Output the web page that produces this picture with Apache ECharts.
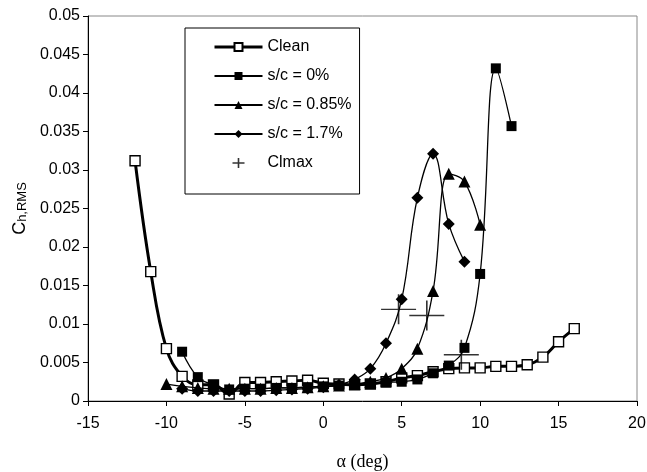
<!DOCTYPE html>
<html>
<head>
<meta charset="utf-8">
<script src="https://cdn.jsdelivr.net/npm/echarts@6/dist/echarts.min.js"></script>
<style>html,body{margin:0;padding:0;background:#fff;}#c{width:647px;height:472px;}</style>
</head>
<body>
<div id="c"></div>
<script>
const seriesNames = ['Clean', 's/c = 0%', 's/c = 0.85%', 's/c = 1.7%', 'Clmax'];
const alphaClean = [-12,-11,-10,-9,-8,-7,-6,-5,-4,-3,-2,-1,0,1,2,3,4,5,6,7,8,9,10,11,12,13,14,15,16];
const clean = [0.0312,0.0168,0.0068,0.0032,0.0021,0.0021,0.0009,0.0024,0.0024,0.0025,0.0026,0.0027,0.0023,0.0022,0.0021,0.0022,0.0025,0.0030,0.0033,0.0038,0.0042,0.0043,0.0043,0.0045,0.0045,0.0047,0.0057,0.0077,0.0094];
const alphaSc0 = [-9,-8,-7,-6,-5,-4,-3,-2,-1,0,1,2,3,4,5,6,7,8,9,10,11,12];
const sc0 = [0.0064,0.0031,0.0021,0.0015,0.0016,0.0016,0.0017,0.0017,0.0018,0.0019,0.0020,0.0021,0.0022,0.0024,0.0025,0.0028,0.0036,0.0046,0.0069,0.0165,0.0432,0.0357];
const alphaSc085 = [-10,-9,-8,-7,-6,-5,-4,-3,-2,-1,0,1,2,3,4,5,6,7,8,9,10];
const sc085 = [0.0022,0.0019,0.0017,0.0016,0.0016,0.0016,0.0016,0.0017,0.0017,0.0018,0.0019,0.0020,0.0022,0.0025,0.0030,0.0042,0.0068,0.0143,0.0295,0.0285,0.0229];
const alphaSc17 = [-9,-8,-7,-6,-5,-4,-3,-2,-1,0,1,2,3,4,5,6,7,8,9];
const sc17 = [0.0016,0.0013,0.0013,0.0013,0.0013,0.0013,0.0014,0.0015,0.0016,0.0018,0.0021,0.0028,0.0042,0.0075,0.0132,0.0264,0.0321,0.0230,0.0181];
const alphaClmax = [4.8, 6.6, 8.8];
const clmax = [0.0119, 0.0111, 0.0060];
const xTicks = [-15, 20, 5];
const yTicks = [0, 0.05, 0.005];

const zip = (a, b) => a.map((x, i) => [x, b[i]]);
const font = "'Liberation Sans', Arial, sans-serif";

const chart = echarts.init(document.getElementById('c'), null, {renderer: 'canvas'});
chart.setOption({
  animation: false,
  backgroundColor: '#fff',
  grid: {left: 88, top: 16, right: 10, bottom: 71, show: true, borderColor: '#888', borderWidth: 1,
         containLabel: false, outerBoundsMode: 'none'},
  legend: {
    orient: 'vertical', left: 185, top: 28,
    padding: [10, 8, 22, 28],
    itemGap: 11, itemWidth: 48, itemHeight: 10,
    borderColor: '#000', borderWidth: 1, backgroundColor: '#fff',
    textStyle: {fontFamily: font, fontSize: 16, color: '#000', lineHeight: 18},
    data: [
      {name: seriesNames[0], lineStyle: {width: 3}}, {name: seriesNames[1]}, {name: seriesNames[2]}, {name: seriesNames[3]},
      {name: seriesNames[4], icon: 'path://M0,0M12,10M0,5L12,5M6,0L6,10', itemStyle: {color: 'transparent', borderColor: '#000', borderWidth: 1.6}}
    ]
  },
  xAxis: {
    type: 'value', min: xTicks[0], max: xTicks[1], interval: xTicks[2],
    name: 'α (deg)', nameLocation: 'middle', nameGap: 52,
    nameTextStyle: {fontFamily: "'Liberation Serif', 'Times New Roman', serif", fontSize: 18, color: '#000'},
    axisLine: {onZero: false, lineStyle: {color: '#000', width: 1}},
    axisTick: {show: true, inside: false, length: 5, lineStyle: {color: '#000'}},
    axisLabel: {fontFamily: font, fontSize: 16, color: '#000', margin: 15},
    splitLine: {show: false}
  },
  yAxis: {
    type: 'value', min: yTicks[0], max: yTicks[1], interval: yTicks[2],
    name: '{a|C}{b|h,RMS}', nameLocation: 'middle', nameGap: 50, nameRotate: 90,
    nameTextStyle: {rich: {
      a: {fontFamily: font, fontSize: 18, color: '#000', lineHeight: 22, verticalAlign: 'bottom'},
      b: {fontFamily: font, fontSize: 13, color: '#000', lineHeight: 22, verticalAlign: 'bottom', padding: [6, 0, 0, 0]}
    }},
    axisLine: {show: true, onZero: false, lineStyle: {color: '#000', width: 1}},
    axisTick: {show: true, inside: false, length: 5, lineStyle: {color: '#000'}},
    axisLabel: {fontFamily: font, fontSize: 16, color: '#000', margin: 8, formatter: v => String(+v.toFixed(4))},
    splitLine: {show: false}
  },
  series: [
    {name: seriesNames[0], type: 'line', data: zip(alphaClean, clean), smooth: 0.4,
     symbol: 'rect', symbolSize: 10, lineStyle: {color: '#000', width: 3},
     itemStyle: {color: '#fff', borderColor: '#000', borderWidth: 1.4}, z: 3},
    {name: seriesNames[1], type: 'line', data: zip(alphaSc0, sc0), smooth: 0.4,
     symbol: 'rect', symbolSize: 10, lineStyle: {color: '#000', width: 1.3},
     itemStyle: {color: '#000', borderColor: '#000', borderWidth: 0}, z: 4},
    {name: seriesNames[2], type: 'line', data: zip(alphaSc085, sc085), smooth: 0.4,
     symbol: 'triangle', symbolSize: 12, lineStyle: {color: '#000', width: 1.3},
     itemStyle: {color: '#000', borderColor: '#000', borderWidth: 0}, z: 4},
    {name: seriesNames[3], type: 'line', data: zip(alphaSc17, sc17), smooth: 0.4,
     symbol: 'diamond', symbolSize: 12, lineStyle: {color: '#000', width: 1.3},
     itemStyle: {color: '#000', borderColor: '#000', borderWidth: 0}, z: 4},
    {name: seriesNames[4], type: 'scatter', data: zip(alphaClmax, clmax),
     symbol: 'path://M0,15L35,15M17.5,0L17.5,30', symbolSize: [35, 30], symbolKeepAspect: false,
     itemStyle: {color: 'transparent', borderColor: '#000', borderWidth: 1.5}, z: 5}
  ]
});
</script>
</body>
</html>
